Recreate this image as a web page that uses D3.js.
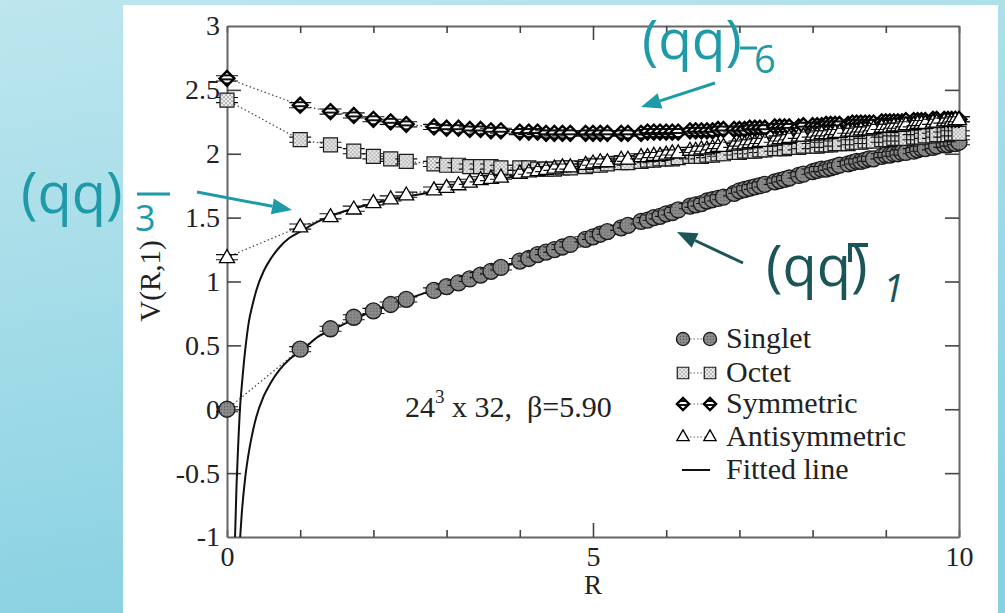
<!DOCTYPE html>
<html><head><meta charset="utf-8">
<script src="https://cdn.jsdelivr.net/npm/d3@7"></script>
<style>html,body{margin:0;padding:0;background:#fff;overflow:hidden} svg{display:block}</style>
</head><body>
<svg id="c" width="1005" height="613"></svg>
<script>
// ---------------- data ----------------
const R = [0,1,1.414,1.732,2,2.236,2.449,2.828,3,3.162,3.317,3.464,3.606,3.742,4,4.123,4.243,4.359,4.472,4.583,4.690,4.899,5,5.099,5.196,5.385,5.477,5.657,5.745,5.831,5.916,6,6.083,6.164,6.325,6.403,6.481,6.557,6.633,6.708,6.782,6.928,7,7.071,7.141,7.211,7.280,7.348,7.483,7.550,7.616,7.681,7.810,7.874,8,8.062,8.124,8.185,8.246,8.307,8.367,8.485,8.544,8.602,8.660,8.718,8.775,8.832,8.944,9,9.055,9.110,9.165,9.220,9.274,9.381,9.434,9.487,9.539,9.644,9.695,9.798,9.849,9.899,9.950,10];

const singlet = [0.00,0.47,0.63,0.72,0.77,0.82,0.86,0.93,0.96,0.99,1.02,1.05,1.08,1.11,1.16,1.18,1.21,1.23,1.25,1.27,1.29,1.33,1.35,1.37,1.39,1.42,1.44,1.47,1.48,1.50,1.51,1.53,1.54,1.56,1.59,1.60,1.61,1.63,1.64,1.65,1.66,1.69,1.71,1.72,1.73,1.74,1.75,1.76,1.78,1.79,1.80,1.81,1.83,1.84,1.86,1.87,1.88,1.88,1.89,1.90,1.91,1.92,1.93,1.94,1.94,1.95,1.96,1.96,1.98,1.99,1.99,2.00,2.00,2.01,2.01,2.02,2.03,2.04,2.04,2.05,2.06,2.07,2.07,2.08,2.08,2.09];

const octet = [2.42,2.11,2.07,2.02,1.98,1.96,1.94,1.92,1.91,1.91,1.90,1.90,1.90,1.89,1.89,1.89,1.88,1.88,1.88,1.89,1.89,1.90,1.91,1.91,1.92,1.93,1.93,1.94,1.95,1.95,1.96,1.96,1.96,1.97,1.98,1.98,1.98,1.99,1.99,2.00,2.00,2.01,2.01,2.02,2.02,2.02,2.03,2.03,2.04,2.04,2.04,2.05,2.05,2.06,2.06,2.06,2.07,2.07,2.07,2.08,2.08,2.08,2.09,2.09,2.09,2.10,2.10,2.10,2.11,2.11,2.11,2.12,2.12,2.12,2.12,2.13,2.13,2.13,2.14,2.14,2.15,2.15,2.15,2.16,2.16,2.16];

const symmetric = [2.59,2.38,2.33,2.30,2.27,2.25,2.23,2.21,2.20,2.20,2.19,2.19,2.18,2.18,2.17,2.17,2.17,2.16,2.16,2.16,2.16,2.16,2.16,2.16,2.16,2.16,2.16,2.16,2.17,2.17,2.17,2.17,2.17,2.17,2.18,2.18,2.18,2.18,2.18,2.19,2.19,2.19,2.19,2.19,2.20,2.20,2.20,2.20,2.21,2.21,2.21,2.21,2.21,2.22,2.22,2.22,2.22,2.23,2.23,2.23,2.23,2.23,2.24,2.24,2.24,2.24,2.24,2.24,2.25,2.25,2.25,2.25,2.25,2.25,2.26,2.26,2.26,2.26,2.26,2.27,2.27,2.27,2.27,2.27,2.27,2.27];

const antisymmetric = [1.19,1.43,1.51,1.57,1.62,1.65,1.68,1.72,1.74,1.76,1.78,1.80,1.81,1.82,1.85,1.86,1.87,1.88,1.89,1.90,1.90,1.92,1.93,1.94,1.94,1.96,1.96,1.98,1.98,1.99,1.99,2.00,2.01,2.01,2.03,2.03,2.04,2.04,2.05,2.06,2.06,2.07,2.08,2.08,2.09,2.09,2.10,2.10,2.11,2.12,2.12,2.13,2.14,2.14,2.15,2.15,2.16,2.16,2.16,2.17,2.17,2.18,2.18,2.18,2.19,2.19,2.19,2.20,2.21,2.21,2.21,2.22,2.22,2.22,2.23,2.23,2.24,2.24,2.24,2.25,2.25,2.26,2.26,2.26,2.27,2.27];

const fitSingletR = [0.15,0.18,0.2,0.25,0.3,0.35,0.4,0.5,0.6,0.72,0.85,1,1.25,1.5,2,2.5,3,4,5,6,7,8,9,10];
const fitSingletV = [-1.33,-1.0,-0.83,-0.53,-0.33,-0.18,-0.06,0.10,0.21,0.31,0.39,0.45,0.57,0.64,0.77,0.87,0.97,1.16,1.35,1.53,1.71,1.86,1.99,2.09];

const fitAntiR = [0.1,0.11,0.13,0.15,0.18,0.2,0.25,0.3,0.35,0.4,0.5,0.6,0.72,0.85,1,1.25,1.5,2,2.5,3,4,5,6,7,8,9,10];
const fitAntiV = [-1.27,-1.0,-0.60,-0.32,0.03,0.17,0.47,0.69,0.82,0.93,1.08,1.18,1.27,1.34,1.39,1.47,1.53,1.61,1.67,1.72,1.83,1.92,2.00,2.07,2.14,2.20,2.26];

const errBar = 0.02;
const xTicks = [0,1,2,3,4,5,6,7,8,9,10];
const xTickLabels = [0,5,10];
const yTicks = [-1,-0.5,0,0.5,1,1.5,2,2.5,3];
const legendLabels = ["Singlet","Octet","Symmetric","Antisymmetric","Fitted line"];
const xTitle = "R", yTitle = "V(R,1)";

// ---------------- drawing ----------------
const svg = d3.select("#c");
const W = 1005, H = 613;
const defs = svg.append("defs");
const bg = defs.append("linearGradient").attr("id","bg").attr("x1",0).attr("y1",0).attr("x2",0.3).attr("y2",1);
bg.append("stop").attr("offset","0%").attr("stop-color","#bde6ee");
bg.append("stop").attr("offset","100%").attr("stop-color","#88d1e2");

let p = defs.append("pattern").attr("id","pSing").attr("width",3).attr("height",3).attr("patternUnits","userSpaceOnUse");
p.append("rect").attr("width",3).attr("height",3).attr("fill","#8a8a8a");
p.append("rect").attr("width",1).attr("height",1).attr("fill","#555");
p = defs.append("pattern").attr("id","pOct").attr("width",4).attr("height",4).attr("patternUnits","userSpaceOnUse");
p.append("rect").attr("width",4).attr("height",4).attr("fill","#ececec");
p.append("circle").attr("cx",1).attr("cy",1).attr("r",0.8).attr("fill","#777");
p.append("circle").attr("cx",3).attr("cy",3).attr("r",0.8).attr("fill","#777");
p = defs.append("pattern").attr("id","pSym").attr("width",4).attr("height",4).attr("patternUnits","userSpaceOnUse").attr("patternTransform","rotate(45)");
p.append("rect").attr("width",4).attr("height",4).attr("fill","#fff");
p.append("rect").attr("width",2).attr("height",4).attr("fill","#111");

svg.append("rect").attr("width",W).attr("height",H).attr("fill","url(#bg)");
svg.append("rect").attr("x",123).attr("y",5).attr("width",875).attr("height",H-5).attr("fill","#fff");

const x = d3.scaleLinear().domain([0,10]).range([227,959]);
const y = d3.scaleLinear().domain([-1,3]).range([537,26]);

defs.append("clipPath").attr("id","plotClip").append("rect")
  .attr("x",x(0)).attr("y",y(3)).attr("width",x(10)-x(0)).attr("height",y(-1)-y(3));

const serif = "'Liberation Serif','Times New Roman',serif";
const fmt = d => String(d);

// axes
function styleAxis(g){
  g.select(".domain").attr("stroke","#666").attr("stroke-width",2);
  g.selectAll(".tick line").attr("stroke","#444").attr("stroke-width",1.6);
  g.selectAll("text").attr("font-family",serif).attr("font-size",28).attr("fill","#222");
}
const gx = svg.append("g").attr("transform",`translate(0,${y(-1)})`)
  .call(d3.axisBottom(x).tickValues(xTicks).tickSizeInner(-7).tickSizeOuter(0).tickPadding(9)
    .tickFormat(d => xTickLabels.includes(d) ? fmt(d) : ""));
gx.selectAll(".tick line").filter(d => d % 5 === 0 && d>0 && d<10).attr("y2",-14);
styleAxis(gx);
const gxt = svg.append("g").attr("transform",`translate(0,${y(3)})`)
  .call(d3.axisTop(x).tickValues(xTicks).tickSizeInner(-7).tickSizeOuter(0).tickFormat(""));
gxt.selectAll(".tick line").filter(d => d % 5 === 0 && d>0 && d<10).attr("y2",14);
styleAxis(gxt);
const gy = svg.append("g").attr("transform",`translate(${x(0)},0)`)
  .call(d3.axisLeft(y).tickValues(yTicks).tickSizeInner(-14).tickSizeOuter(0).tickPadding(7).tickFormat(fmt));
gy.selectAll(".tick line").filter(d => d===-1||d===3).remove();
styleAxis(gy);
const gyr = svg.append("g").attr("transform",`translate(${x(10)},0)`)
  .call(d3.axisRight(y).tickValues(yTicks).tickSizeInner(-14).tickSizeOuter(0).tickFormat(""));
gyr.selectAll(".tick line").filter(d => d===-1||d===3).remove();
styleAxis(gyr);

svg.append("text").attr("x",x(5)).attr("y",594).attr("text-anchor","middle")
  .attr("font-family",serif).attr("font-size",27).attr("fill","#222").text(xTitle);
svg.append("text").attr("transform","translate(160,281) rotate(-90)").attr("text-anchor","middle")
  .attr("font-family",serif).attr("font-size",29).attr("fill","#222").text(yTitle);

// series
const series = [
  {name:"Singlet", vals:singlet, shape:"circle"},
  {name:"Octet", vals:octet, shape:"square"},
  {name:"Symmetric", vals:symmetric, shape:"diamond"},
  {name:"Antisymmetric", vals:antisymmetric, shape:"triangle"}
];
function markerPath(shape, s){
  if(shape==="circle") return d3.symbol(d3.symbolCircle, Math.PI*(8*s)*(8*s))();
  if(shape==="square") return d3.symbol(d3.symbolSquare, (14*s)*(14*s))();
  if(shape==="diamond") return d3.symbol(d3.symbolSquare, (10.5*s)*(10.5*s))();
  return d3.symbol(d3.symbolTriangle, Math.sqrt(3)/4*(15*s)*(15*s))();
}
function markerStyle(sel, shape){
  if(shape==="circle") sel.attr("fill","url(#pSing)").attr("stroke","#1a1a1a").attr("stroke-width",1.3);
  else if(shape==="square") sel.attr("fill","url(#pOct)").attr("stroke","#1a1a1a").attr("stroke-width",1.2);
  else if(shape==="diamond") sel.attr("fill","url(#pSym)").attr("stroke","#000").attr("stroke-width",2.4);
  else sel.attr("fill","#fff").attr("stroke","#000").attr("stroke-width",1.3);
}
const line = d3.line().x(d=>x(d[0])).y(d=>y(d[1]));
const plot = svg.append("g").attr("clip-path","url(#plotClip)");
series.forEach(s => {
  const pts = R.map((r,i)=>[r, s.vals[i]]);
  plot.append("path").attr("d", line(pts)).attr("fill","none").attr("stroke","#444")
    .attr("stroke-width",1.2).attr("stroke-dasharray","1.5,2.5");
});
series.forEach(s => {
  const pts = R.map((r,i)=>[r, s.vals[i]]);
  const g = svg.append("g");
  const grp = g.selectAll("g").data(pts).join("g").attr("transform", d=>`translate(${x(d[0])},${y(d[1])})`);
  grp.append("path").attr("d", d => {
    const a = y(d[1]+errBar)-y(d[1]), b = y(d[1]-errBar)-y(d[1]);
    return `M-11,${a}H11M-11,${b}H11M0,${a}V${b}`;
  }).attr("stroke","#111").attr("stroke-width",1.1).attr("fill","none");
  const m = grp.append("path").attr("d", markerPath(s.shape,1))
    .attr("transform", s.shape==="diamond" ? "rotate(45)" : (s.shape==="triangle" ? "translate(0,1)" : null));
  markerStyle(m, s.shape);
});

// fitted lines
const fitLine = d3.line().x(d=>x(d[0])).y(d=>y(d[1])).curve(d3.curveMonotoneX);
[[fitSingletR, fitSingletV],[fitAntiR, fitAntiV]].forEach(([rr,vv]) => {
  plot.append("path").attr("d", fitLine(rr.map((r,i)=>[r,vv[i]])))
    .attr("fill","none").attr("stroke","#111").attr("stroke-width",2);
});

// legend
const legY = [339,373,404,437,470];
const leg = svg.append("g");
legendLabels.forEach((lab,i) => {
  const yy = legY[i];
  if(i<4){
    leg.append("line").attr("x1",683).attr("x2",710).attr("y1",yy).attr("y2",yy)
      .attr("stroke","#666").attr("stroke-width",1.1).attr("stroke-dasharray","1.5,2");
    [683,710].forEach(xx => {
      const m = leg.append("path").attr("d", markerPath(series[i].shape, 0.82))
        .attr("transform", `translate(${xx},${yy})` + (series[i].shape==="diamond" ? " rotate(45)" : ""));
      markerStyle(m, series[i].shape);
    });
  } else {
    leg.append("line").attr("x1",682).attr("x2",710).attr("y1",yy).attr("y2",yy)
      .attr("stroke","#111").attr("stroke-width",2);
  }
  leg.append("text").attr("x",726).attr("y",yy+9).attr("font-family",serif).attr("font-size",30)
    .attr("fill","#222").text(lab);
});

// lattice annotation
const ann = svg.append("text").attr("x",405).attr("y",417).attr("font-family",serif)
  .attr("font-size",30).attr("fill","#222").style("white-space","pre");
ann.append("tspan").text("24");
ann.append("tspan").attr("font-size",19).attr("dy",-14).text("3");
ann.append("tspan").attr("dy",14).text(" x 32,  \u03b2=5.90");

// teal slide annotations
const sans = "'Open Sans','Noto Sans',sans-serif";
const teal = "#1f9aa8", dark = "#1c5558";
function label(xx, yy, col, fs){
  return svg.append("text").attr("x",xx).attr("y",yy).attr("font-family",sans)
    .attr("font-size",fs).attr("fill",col).text("(qq)");
}
label(642,59,teal,55);
svg.append("text").attr("x",754).attr("y",73).attr("font-family",sans).attr("font-size",38).attr("fill",teal).text("6");
svg.append("line").attr("x1",740).attr("x2",757).attr("y1",48).attr("y2",48).attr("stroke",teal).attr("stroke-width",3);

label(21,213,teal,56);
svg.append("text").attr("x",135).attr("y",231).attr("font-family",sans).attr("font-size",36).attr("fill",teal).text("3");
svg.append("line").attr("x1",137).attr("x2",170).attr("y1",194).attr("y2",194).attr("stroke",teal).attr("stroke-width",3);

label(766,286,dark,56);
svg.append("path").attr("d","M848,245H868M850,245V262").attr("stroke",dark).attr("stroke-width",4).attr("fill","none");
svg.append("text").attr("x",883).attr("y",302).attr("font-family",sans).attr("font-size",38)
  .attr("font-style","italic").attr("fill",dark).text("1");

function arrow(x1,y1,x2,y2,col){
  const a = Math.atan2(y2-y1,x2-x1), L = 20, Wd = 8;
  const bx = x2 - L*Math.cos(a), by = y2 - L*Math.sin(a);
  svg.append("line").attr("x1",x1).attr("y1",y1).attr("x2",bx).attr("y2",by)
    .attr("stroke",col).attr("stroke-width",3);
  const px = -Math.sin(a)*Wd, py = Math.cos(a)*Wd;
  svg.append("path").attr("d",`M${x2},${y2}L${bx+px},${by+py}L${bx-px},${by-py}Z`).attr("fill",col);
}
arrow(715,83,641,107,teal);
arrow(197,192,292,210,teal);
arrow(743,263,677,232,dark);
</script>
</body></html>
